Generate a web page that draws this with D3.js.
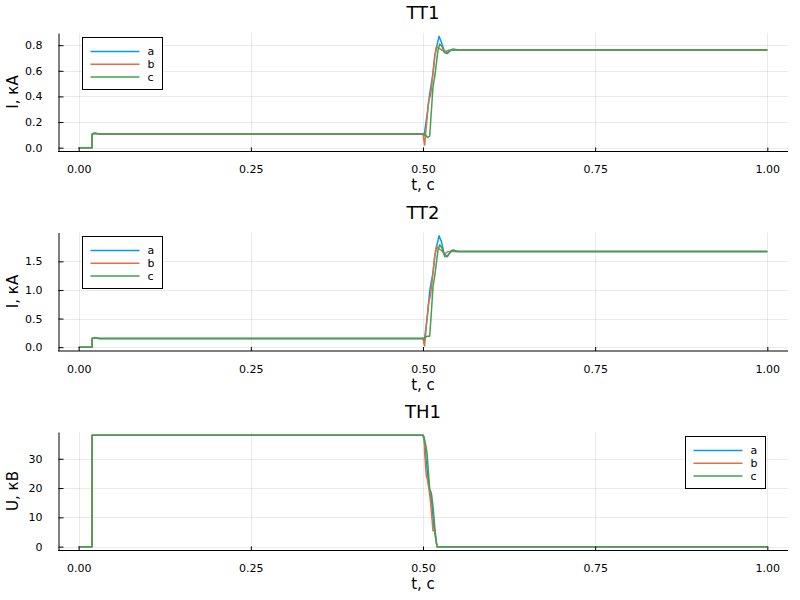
<!DOCTYPE html>
<html>
<head>
<meta charset="utf-8">
<script src="https://cdn.jsdelivr.net/npm/d3@7"></script>
<style>
  body { margin: 0; background: #fff; }
  text { font-family: "DejaVu Sans", sans-serif; fill: #000; }
</style>
</head>
<body>
<script>

/***** data ****/

var phases = ["a", "b", "c"];
var colors = ["#009af9", "#e26f46", "#3da44d"];
var xTicks = [0, 0.25, 0.5, 0.75, 1.0];

// TT1 current, kA  ([t, value] pairs)
var tt1_a = [[0, 0], [0.0194, 0], [0.0196, 0.105], [0.023, 0.115], [0.03, 0.106], [0.5, 0.106],
    [0.5015, 0.09], [0.5063, 0.27], [0.5097, 0.42], [0.5121, 0.50], [0.5145, 0.58], [0.517, 0.71],
    [0.5203, 0.80], [0.5233, 0.869], [0.5266, 0.825], [0.5305, 0.76], [0.5349, 0.74], [0.5388, 0.755],
    [0.5436, 0.77], [0.551, 0.763], [1, 0.763]];
var tt1_b = [[0, 0], [0.0194, 0], [0.0196, 0.105], [0.023, 0.112], [0.03, 0.106], [0.5, 0.106],
    [0.5024, 0.02], [0.5048, 0.163], [0.5082, 0.37], [0.5111, 0.41], [0.5145, 0.58], [0.517, 0.71],
    [0.5194, 0.786], [0.5218, 0.78], [0.5266, 0.765], [0.5315, 0.747], [0.5363, 0.76], [0.545, 0.763],
    [1, 0.763]];
var tt1_c = [[0, 0], [0.0194, 0], [0.0196, 0.105], [0.023, 0.11], [0.03, 0.106], [0.5, 0.106],
    [0.5039, 0.1], [0.5063, 0.08], [0.5097, 0.09], [0.5121, 0.28], [0.5145, 0.475], [0.517, 0.55],
    [0.5194, 0.657], [0.5218, 0.76], [0.5242, 0.81], [0.5276, 0.79], [0.5315, 0.74], [0.5354, 0.735],
    [0.5412, 0.765], [0.5484, 0.763], [1, 0.763]];

// TT2 current, kA
var tt2_a = [[0, 0], [0.0194, 0], [0.0196, 0.152], [0.023, 0.17], [0.03, 0.153], [0.5, 0.152],
    [0.5015, 0.076], [0.5063, 0.54], [0.5097, 0.976], [0.5121, 1.15], [0.5145, 1.296], [0.517, 1.585],
    [0.5203, 1.79], [0.5233, 1.946], [0.5266, 1.85], [0.5305, 1.645], [0.5349, 1.585], [0.5388, 1.645],
    [0.5436, 1.70], [0.551, 1.672], [1, 1.672]];
var tt2_b = [[0, 0], [0.0194, 0], [0.0196, 0.152], [0.023, 0.165], [0.03, 0.153], [0.5, 0.152],
    [0.5024, 0.02], [0.5048, 0.366], [0.5082, 0.77], [0.5111, 0.92], [0.5145, 1.296], [0.517, 1.585],
    [0.5194, 1.76], [0.5218, 1.73], [0.5266, 1.69], [0.5315, 1.63], [0.5363, 1.672], [1, 1.672]];
var tt2_c = [[0, 0], [0.0194, 0], [0.0196, 0.152], [0.023, 0.16], [0.03, 0.153], [0.5, 0.152],
    [0.5063, 0.19], [0.5097, 0.19], [0.5121, 0.6], [0.5145, 1.06], [0.517, 1.24], [0.5194, 1.47],
    [0.5218, 1.70], [0.5242, 1.79], [0.5276, 1.73], [0.5315, 1.585], [0.5354, 1.585], [0.5412, 1.69],
    [0.5484, 1.672], [1, 1.672]];

// TH1 voltage, kV
var th1_a = [[0, 0], [0.0194, 0], [0.0196, 38], [0.5, 38], [0.5015, 36.5], [0.5034, 33.1],
    [0.5048, 28.6], [0.5073, 23.5], [0.5097, 19], [0.5121, 16.2], [0.5136, 12.8], [0.5155, 7.1],
    [0.5179, 3.7], [0.5203, 0], [1, 0]];
var th1_b = [[0, 0], [0.0194, 0], [0.0196, 38], [0.5, 38], [0.5019, 36], [0.5024, 32],
    [0.5048, 24.1], [0.5063, 22.9], [0.5087, 19.6], [0.5111, 15], [0.5131, 9.4], [0.5145, 5.4],
    [0.517, 5.4], [0.5194, 1.5], [0.5203, 0], [1, 0]];
var th1_c = [[0, 0], [0.0194, 0], [0.0196, 38], [0.5, 38], [0.5015, 37.5], [0.5039, 34.8],
    [0.5058, 32], [0.5073, 27.5], [0.5097, 19.6], [0.5121, 18.4], [0.5145, 13.9], [0.517, 7.1],
    [0.5194, 1.4], [0.5208, 0], [1, 0]];

var titles = ["TT1", "TT2", "TH1"];
var yLabels = ["I, кА", "I, кА", "U, кВ"];
var yTicks = [[0, 0.2, 0.4, 0.6, 0.8], [0, 0.5, 1.0, 1.5], [0, 10, 20, 30]];
var yFormats = [".1f", ".1f", "d"];
var seriesSets = [[tt1_a, tt1_b, tt1_c], [tt2_a, tt2_b, tt2_c], [th1_a, th1_b, th1_c]];
var legendSide = ["left", "left", "right"];

/***** layout ****/

var width = 800,
    height = 600,
    left = 58,
    right = 788,
    firstTop = 33,
    panelStep = 199.5,
    plotH = 118;

var svg = d3.select("body").append("svg")
    .attr("width", width)
    .attr("height", height);

svg.append("rect")
    .attr("width", width)
    .attr("height", height)
    .attr("fill", "#fff");

// Plots.jl style: widen the extent by 3% each side
function widen(ext) {
    var d = (ext[1] - ext[0]) * 0.03;
    return [ext[0] - d, ext[1] + d];
}

var x = d3.scaleLinear()
    .domain(widen([0, 1]))
    .range([left, right]);

seriesSets.forEach(function (series, i) {
    var top = firstTop + i * panelStep,
        bottom = top + plotH;

    var all = [];
    series.forEach(function (s) { s.forEach(function (p) { all.push(p[1]); }); });

    var y = d3.scaleLinear()
        .domain(widen(d3.extent(all)))
        .range([bottom, top]);

    var g = svg.append("g");

    // grid
    g.selectAll(".xgrid")
        .data(xTicks)
        .enter().append("line")
        .attr("x1", function (d) { return Math.round(x(d)) + 0.5; })
        .attr("x2", function (d) { return Math.round(x(d)) + 0.5; })
        .attr("y1", top)
        .attr("y2", bottom)
        .attr("stroke", "#000")
        .attr("stroke-opacity", 0.08);

    g.selectAll(".ygrid")
        .data(yTicks[i])
        .enter().append("line")
        .attr("x1", left)
        .attr("x2", right)
        .attr("y1", function (d) { return Math.round(y(d)) + 0.5; })
        .attr("y2", function (d) { return Math.round(y(d)) + 0.5; })
        .attr("stroke", "#000")
        .attr("stroke-opacity", 0.08);

    // curves
    var line = d3.line()
        .x(function (d) { return x(d[0]); })
        .y(function (d) { return y(d[1]); });

    g.selectAll(".curve")
        .data(series)
        .enter().append("path")
        .attr("d", line)
        .attr("fill", "none")
        .attr("stroke", function (d, k) { return colors[k]; })
        .attr("stroke-width", 1.5)
        .attr("stroke-linejoin", "round");

    // axes (ticks pointing inward like GR)
    var xAxis = d3.axisBottom(x)
        .tickValues(xTicks)
        .tickFormat(d3.format(".2f"))
        .tickSizeInner(-4)
        .tickSizeOuter(0)
        .tickPadding(14);

    var yAxis = d3.axisLeft(y)
        .tickValues(yTicks[i])
        .tickFormat(d3.format(yFormats[i]))
        .tickSizeInner(-5)
        .tickSizeOuter(0)
        .tickPadding(16);

    var gx = g.append("g")
        .attr("transform", "translate(0," + (bottom + 0.5) + ")")
        .call(xAxis);
    var gy = g.append("g")
        .attr("transform", "translate(" + (left + 0.5) + ",0)")
        .call(yAxis);

    [gx, gy].forEach(function (a) {
        a.select(".domain").attr("stroke", "#000").attr("stroke-width", 1);
        a.selectAll(".tick line").attr("stroke", "#000");
        a.selectAll("text")
            .style("font-family", "DejaVu Sans, sans-serif")
            .style("font-size", "11px")
            .attr("fill", "#000");
    });
    gx.select(".domain").attr("d", "M" + left + ",0H" + right);

    // titles and labels
    g.append("text")
        .attr("x", (left + right) / 2)
        .attr("y", top - 14)
        .attr("text-anchor", "middle")
        .style("font-size", "18px")
        .text(titles[i]);

    g.append("text")
        .attr("x", (left + right) / 2)
        .attr("y", bottom + 39)
        .attr("text-anchor", "middle")
        .style("font-size", "15px")
        .text("t, c");

    g.append("text")
        .attr("transform", "translate(18," + ((top + bottom) / 2) + ") rotate(-90)")
        .attr("text-anchor", "middle")
        .style("font-size", "15px")
        .text(yLabels[i]);

    // legend
    var lw = 80, lh = 52;
    var lx = legendSide[i] == "left" ? left + 24 : right - 103,
        ly = top + 3.5;

    var leg = g.append("g")
        .attr("transform", "translate(" + (Math.round(lx) + 0.5) + "," + (Math.round(ly) + 0.5) + ")");

    leg.append("rect")
        .attr("width", lw)
        .attr("height", lh)
        .attr("fill", "#fff")
        .attr("stroke", "#000")
        .attr("stroke-width", 1);

    var item = leg.selectAll(".item")
        .data(phases)
        .enter().append("g")
        .attr("transform", function (d, k) { return "translate(0," + (14 + k * 12.8) + ")"; });

    item.append("line")
        .attr("x1", 8)
        .attr("x2", 57)
        .attr("stroke", function (d, k) { return colors[k]; })
        .attr("stroke-width", 1.5);

    item.append("text")
        .attr("x", 65)
        .attr("dy", "0.35em")
        .style("font-size", "11px")
        .text(function (d) { return d; });
});

</script>
</body>
</html>
